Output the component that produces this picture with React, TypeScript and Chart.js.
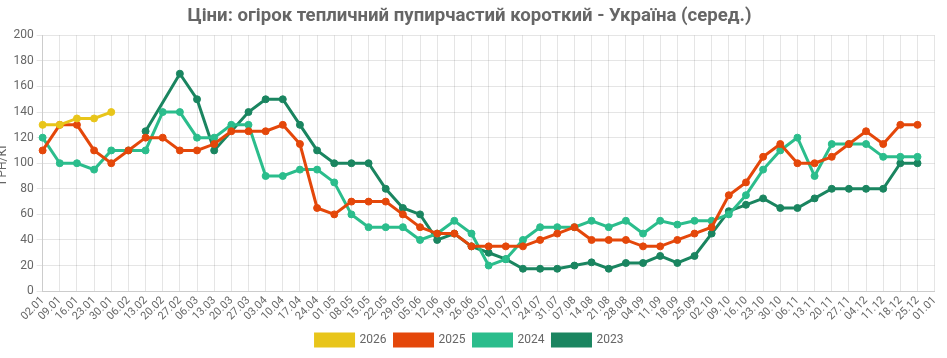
import React, { useEffect, useRef } from "react";
import { Chart, registerables } from "chart.js";

Chart.register(...registerables);

const labels: string[] = [
  "02.01", "09.01", "16.01", "23.01", "30.01", "06.02", "13.02", "20.02", "27.02", "06.03",
  "13.03", "20.03", "27.03", "03.04", "10.04", "17.04", "24.04", "01.05", "08.05", "15.05",
  "22.05", "29.05", "05.06", "12.06", "19.06", "26.06", "03.07", "10.07", "17.07", "24.07",
  "31.07", "07.08", "14.08", "21.08", "28.08", "04.09", "11.09", "18.09", "25.09", "02.10",
  "09.10", "16.10", "23.10", "30.10", "06.11", "13.11", "20.11", "27.11", "04.12", "11.12",
  "18.12", "25.12", "01.01",
];

const y2026: (number | null)[] = [130, 130, 135, 135, 140];

const y2025: (number | null)[] = [
  110, 130, 130, 110, 100, 110, 120, 120, 110, 110,
  115, 125, 125, 125, 130, 115, 65, 60, 70, 70,
  70, 60, 50, 45, 45, 35, 35, 35, 35, 40,
  45, 50, 40, 40, 40, 35, 35, 40, 45, 50,
  75, 85, 105, 115, 100, 100, 105, 115, 125, 115,
  130, 130, null,
];

const y2024: (number | null)[] = [
  120, 100, 100, 95, 110, 110, 110, 140, 140, 120,
  120, 130, 130, 90, 90, 95, 95, 85, 60, 50,
  50, 50, 40, 45, 55, 45, 20, 25, 40, 50,
  50, 50, 55, 50, 55, 45, 55, 52, 55, 55,
  60, 75, 95, 110, 120, 90, 115, 115, 115, 105,
  105, 105, null,
];

const y2023: (number | null)[] = [
  null, null, null, null, null, null, 125, null, 170, 150,
  110, null, 140, 150, 150, 130, 110, 100, 100, 100,
  80, 65, 60, 40, 45, 35, 30, 25, 17.5, 17.5,
  17.5, 20, 22.5, 17.5, 22, 22, 27.5, 22, 27.5, 45,
  62.5, 67.5, 72.5, 65, 65, 72.5, 80, 80, 80, 80,
  100, 100, null,
];

const seriesNames = ["2026", "2025", "2024", "2023"];
const seriesColors = ["#E8C51A", "#E4470A", "#2BBD8C", "#1A8560"];
const titleText = "Ціни: огірок тепличний пупирчастий короткий - Україна (серед.)";
const yTitle = "ГРН/КГ";

export default function App() {
  const ref = useRef<HTMLCanvasElement | null>(null);

  useEffect(() => {
    document.body.style.margin = "0";
    const ctx = ref.current;
    if (!ctx) return;
    const data = [y2026, y2025, y2024, y2023];
    const chart = new Chart(ctx, {
      type: "line",
      data: {
        labels,
        datasets: data.map((d, i) => ({
          label: seriesNames[i],
          data: d,
          borderColor: seriesColors[i],
          backgroundColor: seriesColors[i],
          pointBackgroundColor: seriesColors[i],
          pointBorderColor: seriesColors[i],
          borderWidth: 3,
          pointRadius: 3.5,
          pointBorderWidth: 1,
          tension: 0,
          spanGaps: true,
        })),
      },
      options: {
        responsive: false,
        animation: false,
        maintainAspectRatio: false,
        layout: { padding: { left: 0, right: 4, top: 0, bottom: 2 } },
        plugins: {
          title: {
            display: true,
            text: titleText,
            color: "#666",
            font: { family: "Roboto", size: 18.6, weight: "bold" },
            padding: { top: 5, bottom: 8 },
          },
          legend: {
            position: "bottom",
            labels: {
              color: "#666",
              font: { family: "Roboto", size: 12 },
              boxWidth: 38,
              boxHeight: 12,
              padding: 8,
            },
          },
          tooltip: { enabled: false },
        },
        scales: {
          x: {
            grid: { color: "rgba(0,0,0,0.1)", drawTicks: false },
            border: { color: "#ccc" },
            ticks: {
              color: "#666",
              font: { family: "Roboto", size: 11 },
              maxRotation: 45,
              minRotation: 45,
              autoSkip: false,
              padding: 3,
            },
          },
          y: {
            min: 0,
            max: 200,
            grid: { color: "rgba(0,0,0,0.1)", tickLength: 6 },
            border: { color: "#ccc" },
            ticks: {
              stepSize: 20,
              color: "#666",
              font: { family: "Roboto", size: 12 },
            },
            title: {
              display: true,
              text: yTitle,
              color: "#666",
              font: { family: "Roboto", size: 12 },
              padding: 0,
            },
          },
        },
      },
    });
    return () => chart.destroy();
  }, []);

  return (
    <div style={{ width: 947, height: 358, overflow: "hidden", position: "relative" }}>
      <canvas ref={ref} width={951} height={358} style={{ position: "absolute", left: -4, top: 0 }} />
    </div>
  );
}
